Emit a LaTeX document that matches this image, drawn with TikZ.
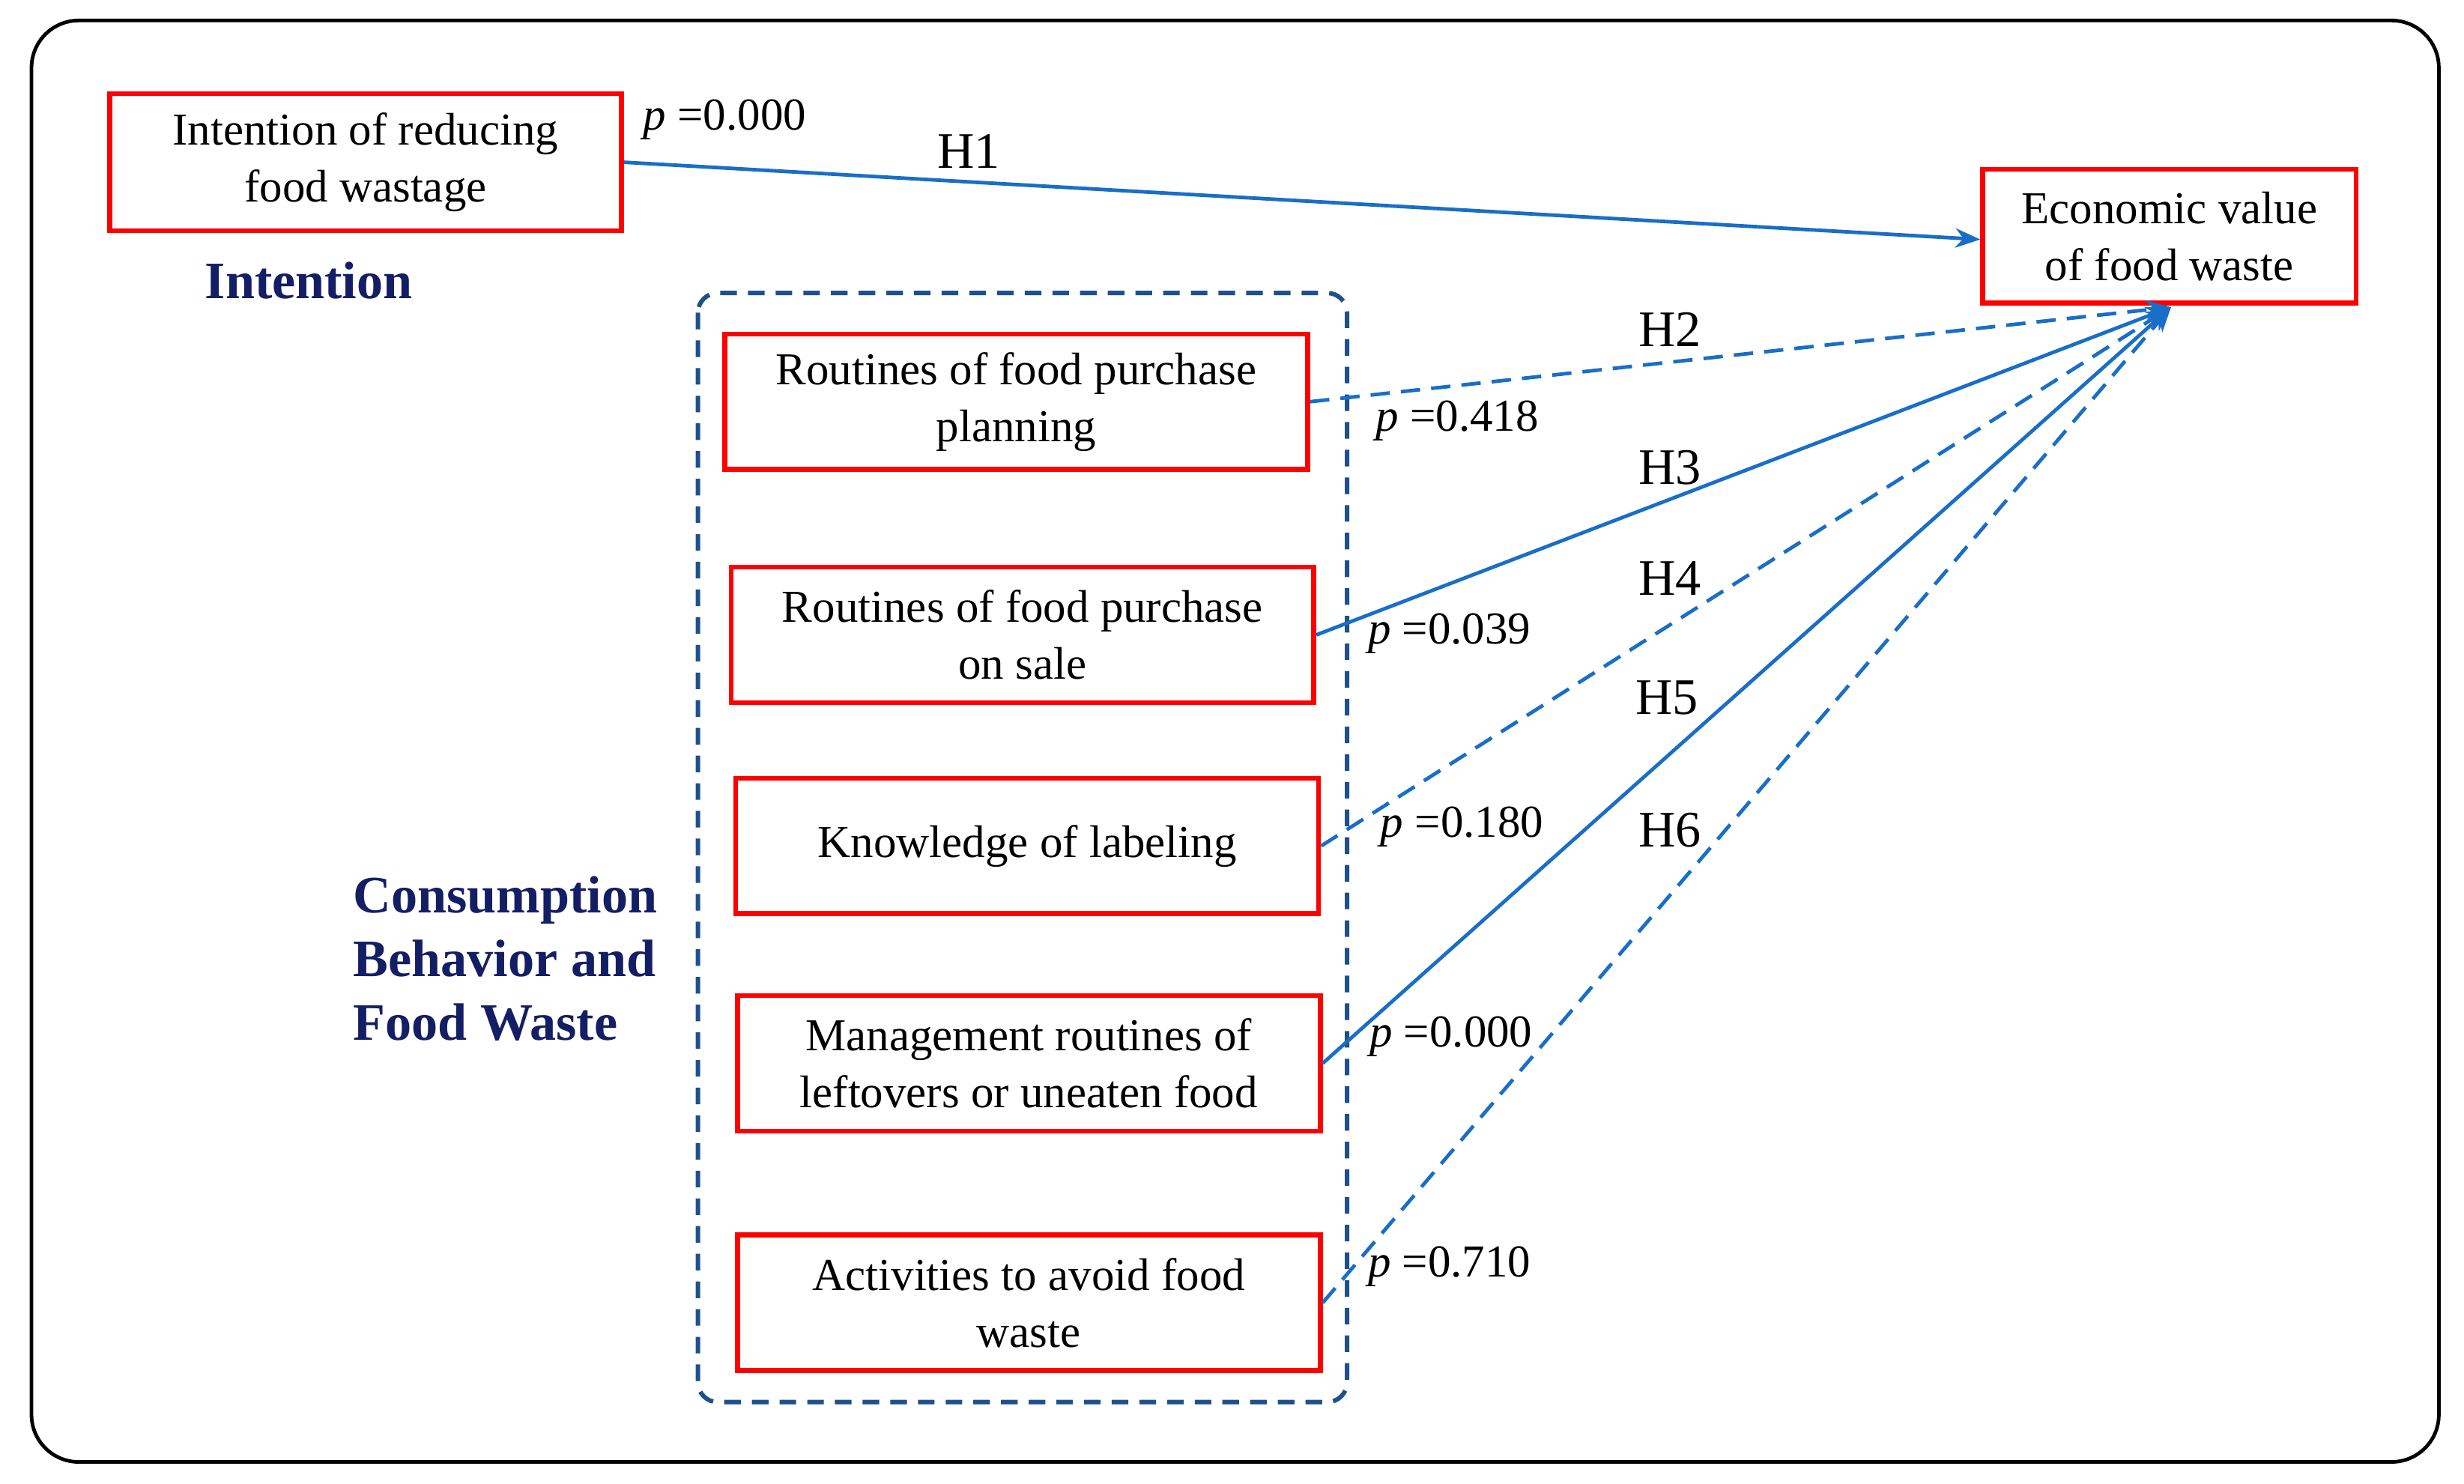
\documentclass[tikz,border=0pt]{standalone}
\usepackage{fontspec}
\setmainfont{Liberation Serif}
\usetikzlibrary{arrows.meta}
\definecolor{arrblue}{RGB}{25,110,200}
\definecolor{navy}{RGB}{20,30,100}
\definecolor{dblue}{RGB}{30,80,140}
\begin{document}
\begin{tikzpicture}[x=0.02cm,y=-0.02cm,
  box/.style={draw=red,line width=1.8pt,minimum width=#1,minimum height=1.72cm,align=center,font=\fontsize{16.5}{20.5}\selectfont},
  box/.default=7.4cm,
  arr/.style={draw=arrblue,line width=1.3pt,-{Stealth[length=9pt,width=7pt]}},
  dsh/.style={arr,dashed,dash pattern=on 7pt off 4pt},
  pl/.style={font=\fontsize{16.5}{20}\selectfont},
  hl/.style={font=\fontsize{18.5}{22}\selectfont},
  bl/.style={font=\fontsize{19}{23}\selectfont\bfseries,text=navy,align=left}]
\useasboundingbox (0,0) rectangle (1564,942);
\draw[line width=1.3pt,rounded corners=0.6cm] (20,13) rectangle (1548,928);
\draw[dblue,line width=1.6pt,dashed,dash pattern=on 6pt off 4pt,rounded corners=0.25cm] (443,186) rectangle (855,890);
\node[box=6.5cm,minimum height=1.74cm] (int) at (232,103) {Intention of reducing\\food wastage};
\node[box=4.74cm,minimum height=1.7cm] (eco) at (1377,150) {Economic value\\of food waste};
\node[box] (b2) at (645,255) {Routines of food purchase\\planning};
\node[box] (b3) at (649,403) {Routines of food purchase\\on sale};
\node[box] (b4) at (652,537) {Knowledge of labeling};
\node[box] (b5) at (653,675) {Management routines of\\leftovers or uneaten food};
\node[box] (b6) at (653,827) {Activities to avoid food\\waste};
\node[bl] (li) at (196,178) {Intention};
\node[bl,anchor=north west] (lc) at (218,550) {Consumption\\Behavior and\\Food Waste};
\coordinate (apex) at (1378,195);
\draw[arr] (int.east) -- (eco.west |- 0,152);
\draw[dsh] (b2.east) -- (apex);
\draw[arr] (b3.east) -- (apex);
\draw[dsh] (b4.east) -- (apex);
\draw[arr] (b5.east) -- (apex);
\draw[dsh] (b6.east) -- (apex);
\node[pl] (p1) at (460,76) {\textit{p} =0.000};
\node[hl] (h1) at (615,96) {H1};
\node[hl] (h2) at (1060,209) {H2};
\node[pl] (p2) at (925,267) {\textit{p} =0.418};
\node[hl] (h3) at (1060,297) {H3};
\node[pl] (p3) at (920,402) {\textit{p} =0.039};
\node[hl] (h4) at (1060,367) {H4};
\node[pl] (p4) at (928,525) {\textit{p} =0.180};
\node[hl] (h5) at (1058,443) {H5};
\node[pl] (p5) at (921,658) {\textit{p} =0.000};
\node[hl] (h6) at (1060,527) {H6};
\node[pl] (p6) at (920,804) {\textit{p} =0.710};
\end{tikzpicture}
\end{document}
